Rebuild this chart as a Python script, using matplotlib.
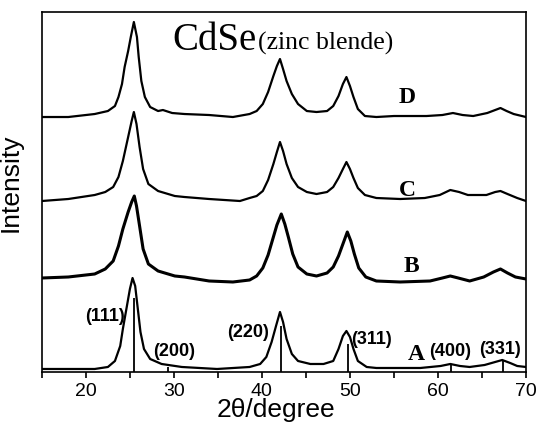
"""XRD patterns of CdSe (zinc blende) samples A-D"""
import matplotlib
matplotlib.use("Agg")
import matplotlib.pyplot as plt
from matplotlib.ticker import MultipleLocator

# Кривые (2theta, интенсивность)
d_x = [15.0, 18.0, 21.0, 22.5, 23.3, 23.7, 24.1, 24.4, 24.8, 25.1, 25.45, 25.8, 26.0, 26.3,
       26.7, 27.3, 28.2, 28.75, 29.8, 31.2, 34.0, 36.7, 38.6, 39.4, 40.1, 40.7, 41.3, 41.7,
       42.05, 42.4, 42.8, 43.4, 44.1, 45.1, 46.2, 47.4, 48.1, 48.7, 49.2, 49.6, 50.0, 50.4,
       50.9, 51.7, 53.0, 55.0, 58.7, 60.5, 61.7, 62.8, 64.0, 65.6, 66.5, 67.1, 67.8, 68.6,
       70.0]
d_y = [255, 255, 258, 261, 266, 275, 288, 305, 321, 335, 350, 335, 315, 291,
       275, 265, 261, 262, 259, 258, 257, 255, 258, 261, 268, 280, 296, 306,
       313, 303, 291, 278, 268, 261, 260, 261, 266, 276, 288, 295, 286, 275,
       263, 256, 255, 256, 256, 257, 259, 257, 256, 259, 262, 264, 261, 258,
       255]

c_x = [15.0, 18.0, 21.0, 22.2, 23.1, 23.7, 24.2, 24.8, 25.2, 25.45, 25.75, 26.1, 26.5, 27.1,
       28.2, 30.1, 31.2, 34.0, 37.5, 38.6, 39.4, 40.1, 40.7, 41.3, 41.7, 42.05, 42.4, 42.8,
       43.4, 44.1, 45.1, 46.2, 47.4, 48.1, 48.7, 49.2, 49.6, 50.0, 50.4, 50.9, 51.7, 53.0,
       55.7, 58.5, 60.2, 61.4, 62.4, 63.4, 65.5, 66.5, 67.1, 67.9, 69.0, 70.0]
c_y = [171, 173, 177, 180, 185, 195, 211, 235, 251, 260, 248, 225, 203, 188,
       181, 176, 175, 173, 171, 174, 176, 181, 192, 208, 220, 230, 221, 208,
       194, 185, 180, 178, 180, 185, 194, 203, 210, 203, 194, 184, 177, 174,
       173, 174, 177, 182, 180, 177, 177, 180, 181, 178, 174, 171]

b_x = [15.0, 18.0, 21.0, 22.2, 23.1, 23.7, 24.2, 24.8, 25.2, 25.5, 25.75, 26.1, 26.5, 27.1,
       28.2, 30.1, 31.2, 34.0, 36.7, 38.6, 39.4, 40.1, 40.7, 41.3, 41.7, 42.2, 42.6, 43.0,
       43.5, 44.1, 45.1, 46.2, 47.4, 48.1, 48.7, 49.2, 49.7, 50.1, 50.5, 51.0, 51.8, 53.0,
       55.7, 59.1, 60.5, 61.4, 62.3, 63.6, 65.2, 66.3, 67.1, 67.9, 68.8, 70.0]
b_y = [94, 95, 98, 103, 111, 126, 143, 160, 170, 176, 166, 146, 123, 108,
       101, 96, 95, 91, 90, 92, 96, 104, 117, 135, 147, 158, 148, 135,
       118, 105, 98, 96, 99, 105, 116, 128, 140, 131, 118, 104, 95, 91,
       90, 91, 94, 96, 94, 91, 95, 100, 103, 99, 95, 93]

a_x = [15.0, 18.0, 21.0, 22.5, 23.3, 23.9, 24.2, 24.6, 25.0, 25.3, 25.6, 25.9, 26.2, 26.6,
       27.3, 28.6, 30.9, 34.9, 38.6, 39.8, 40.5, 41.1, 41.6, 42.05, 42.4, 42.8, 43.4, 44.1,
       45.5, 47.0, 48.1, 48.7, 49.2, 49.6, 50.0, 50.4, 50.9, 51.9, 53.0, 58.0, 60.3, 61.4,
       62.5, 63.6, 65.3, 66.5, 67.3, 68.2, 69.0, 70.0]
a_y = [3, 3, 3, 5, 11, 26, 43, 63, 83, 94, 86, 63, 40, 23,
       13, 8, 5, 3, 5, 8, 15, 30, 46, 60, 50, 33, 18, 11,
       8, 8, 11, 23, 36, 41, 35, 23, 11, 5, 4, 4, 6, 8,
       6, 5, 7, 10, 12, 9, 6, 5]

# Эталонные линии (PDF) и индексы
ref_pos = [25.45, 29.3, 42.15, 49.8, 61.5, 67.4]
ref_h = [74, 5, 46, 28, 7, 11]
hkl = ["(111)", "(200)", "(220)", "(311)", "(400)", "(331)"]
hkl_x = [24.4, 27.6, 38.4, 50.1, 61.4, 67.0]
hkl_y = [56, 21, 40, 33, 21, 23]
hkl_ha = ["right", "left", "center", "left", "center", "center"]

names = ["D", "C", "B", "A"]
name_x = [56.5, 56.5, 57.0, 57.5]
name_y = [276, 183, 106, 18]

fig = plt.figure(figsize=(5.37, 4.27), dpi=100)
ax = fig.add_axes([0.078, 0.1265, 0.9015, 0.843])

for xs, ys in [(d_x, d_y), (c_x, c_y), (a_x, a_y)]:
    ax.plot(xs, ys, color="black", lw=1.6)
ax.plot(b_x, b_y, color="black", lw=2.2)

ax.vlines(ref_pos, 0, ref_h, color="black", lw=1.3)

for t, x, y, ha in zip(hkl, hkl_x, hkl_y, hkl_ha):
    ax.text(x, y, t, ha=ha, va="center", fontsize=13, fontweight="bold",
            family="Liberation Sans")

for t, x, y in zip(names, name_x, name_y):
    ax.text(x, y, t, ha="center", va="center", fontsize=17, fontweight="bold",
            family="Liberation Serif")

ax.text(29.8, 323, "CdSe", ha="left", va="baseline", fontsize=28, family="Liberation Serif")
ax.text(39.5, 323, "(zinc blende)", ha="left", va="baseline", fontsize=18.5,
        family="Liberation Serif")

ax.set_xlim(15, 70)
ax.set_ylim(0, 360)
ax.xaxis.set_major_locator(MultipleLocator(10))
ax.xaxis.set_minor_locator(MultipleLocator(5))
ax.tick_params(axis="x", which="both", direction="out", length=4, width=1.2,
               labelsize=14, top=False, pad=3)
ax.tick_params(axis="y", left=False, labelleft=False)
for lab in ax.get_xticklabels():
    lab.set_family("Liberation Sans")
for s in ax.spines.values():
    s.set_linewidth(1.2)

ax.set_xlabel("2θ/degree", fontsize=19, family="Liberation Sans")
ax.set_ylabel("Intensity", fontsize=19, family="Liberation Sans")
ax.xaxis.set_label_coords(0.4845, -0.07)
ax.yaxis.set_label_coords(-0.04, 0.528)

plt.savefig("out.png", dpi=100)
